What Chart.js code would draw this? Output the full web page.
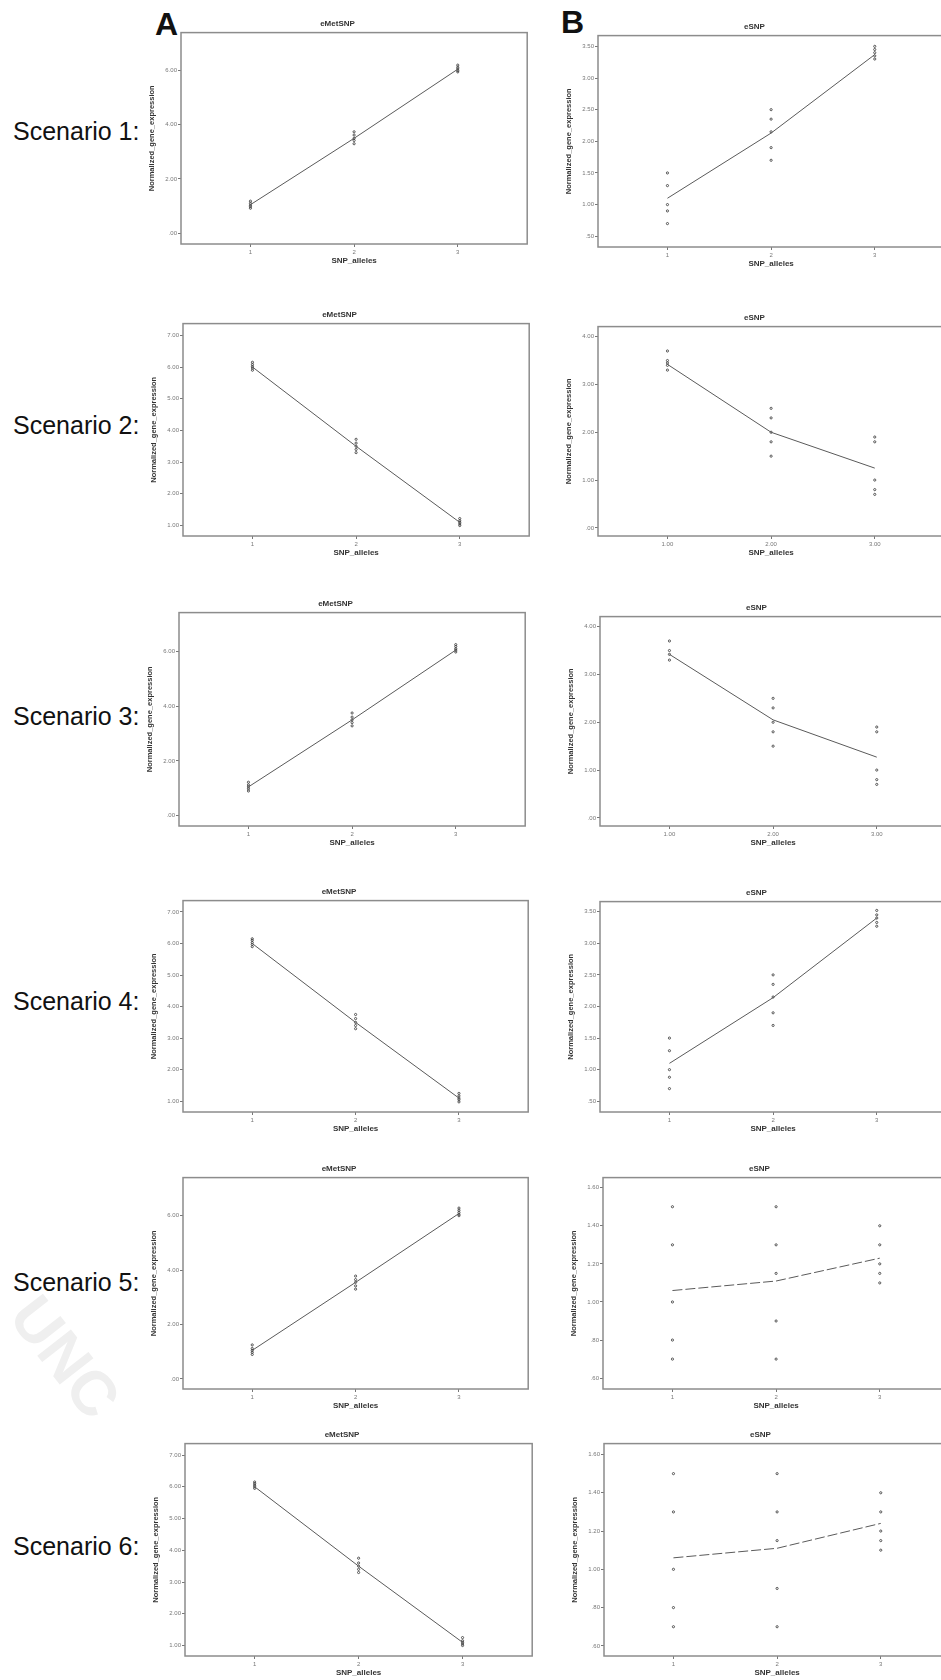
<!DOCTYPE html>
<html>
<head>
<meta charset="utf-8">
<script src="https://cdn.jsdelivr.net/npm/chart.js@4.4.0/dist/chart.umd.min.js"></script>
<style>
html, body { margin: 0; padding: 0; background: #fff; }
body { width: 941px; height: 1680px; position: relative; overflow: hidden; font-family: "Liberation Sans", Arial, sans-serif; }
canvas { position: absolute; }
.scen { position: absolute; left: 13px; font-size: 25px; color: #111; line-height: 1; transform: translateY(-50%); white-space: nowrap; }
.col { position: absolute; font-size: 32px; font-weight: bold; line-height: 1; color: #111;
       font-family: "Liberation Sans Narrow", "Liberation Sans", Arial, sans-serif; }
.wm { position: absolute; left: 52px; top: 1282px; font-size: 62px; font-weight: bold; color: #efefef;
      transform: rotate(52deg); transform-origin: left top; white-space: nowrap; }
</style>
</head>
<body>
<div class="wm">UNC</div>
<div class="col" style="left:155px; top:8px;">A</div>
<div class="col" style="left:561px; top:6px;">B</div>
<div class="scen" style="top:131px;">Scenario 1:</div>
<div class="scen" style="top:425px;">Scenario 2:</div>
<div class="scen" style="top:716px;">Scenario 3:</div>
<div class="scen" style="top:1001px;">Scenario 4:</div>
<div class="scen" style="top:1282px;">Scenario 5:</div>
<div class="scen" style="top:1546px;">Scenario 6:</div>

<script>
// x categories (SNP alleles)
var alleles = [1, 2, 3];

// tick label sets
var metTicksLow = [0, 2, 4, 6];
var metTicksHigh = [1, 2, 3, 4, 5, 6, 7];
var snpTicksHalf = [0.5, 1, 1.5, 2, 2.5, 3, 3.5];
var snpTicksWhole = [0, 1, 2, 3, 4];
var snpTicksFine = [0.6, 0.8, 1.0, 1.2, 1.4, 1.6];

// scenario 1
var s1MetPts = [[0.92, 0.98, 1.03, 1.1, 1.18], [3.3, 3.42, 3.5, 3.62, 3.74], [5.95, 6.0, 6.06, 6.12, 6.2]];
var s1MetLine = [1.05, 3.5, 6.05];
var s1SnpPts = [[1.5, 1.3, 1.0, 0.9, 0.7], [2.5, 2.35, 2.15, 1.9, 1.7], [3.5, 3.45, 3.4, 3.35, 3.3]];
var s1SnpLine = [1.1, 2.13, 3.37];

// scenario 2
var s2MetPts = [[5.9, 5.97, 6.02, 6.08, 6.15], [3.3, 3.4, 3.5, 3.6, 3.72], [1.0, 1.05, 1.1, 1.15, 1.22]];
var s2MetLine = [6.0, 3.5, 1.1];
var s2SnpPts = [[3.7, 3.5, 3.45, 3.4, 3.3], [2.5, 2.3, 2.0, 1.8, 1.5], [1.9, 1.8, 1.0, 0.8, 0.7]];
var s2SnpLine = [3.42, 2.0, 1.25];

// scenario 3
var s3MetPts = [[0.9, 0.98, 1.05, 1.12, 1.22], [3.28, 3.4, 3.5, 3.6, 3.75], [5.98, 6.05, 6.1, 6.18, 6.25]];
var s3MetLine = [1.05, 3.5, 6.05];
var s3SnpPts = [[3.7, 3.5, 3.42, 3.3], [2.5, 2.3, 2.0, 1.8, 1.5], [1.9, 1.8, 1.0, 0.8, 0.7]];
var s3SnpLine = [3.42, 2.05, 1.27];

// scenario 4
var s4MetPts = [[5.9, 5.97, 6.03, 6.1, 6.15], [3.3, 3.4, 3.5, 3.62, 3.75], [0.98, 1.05, 1.1, 1.17, 1.25]];
var s4MetLine = [6.0, 3.5, 1.1];
var s4SnpPts = [[1.5, 1.3, 1.0, 0.88, 0.7], [2.5, 2.35, 2.15, 1.9, 1.7], [3.52, 3.45, 3.4, 3.33, 3.27]];
var s4SnpLine = [1.1, 2.14, 3.4];

// scenario 5
var s5MetPts = [[0.9, 0.98, 1.05, 1.12, 1.25], [3.3, 3.42, 3.55, 3.65, 3.78], [6.0, 6.05, 6.12, 6.2, 6.28]];
var s5MetLine = [1.05, 3.55, 6.08];
var s5SnpPts = [[1.5, 1.3, 1.0, 0.8, 0.7], [1.5, 1.3, 1.15, 0.9, 0.7], [1.4, 1.3, 1.2, 1.15, 1.1]];
var s5SnpLine = [1.06, 1.11, 1.23];

// scenario 6
var s6MetPts = [[5.95, 6.0, 6.05, 6.1, 6.15], [3.3, 3.4, 3.5, 3.6, 3.75], [1.0, 1.05, 1.1, 1.15, 1.25]];
var s6MetLine = [6.0, 3.5, 1.1];
var s6SnpPts = [[1.5, 1.3, 1.0, 0.8, 0.7], [1.5, 1.3, 1.15, 0.9, 0.7], [1.4, 1.3, 1.2, 1.15, 1.1]];
var s6SnpLine = [1.06, 1.11, 1.24];

var YW = 36;     // room left of plot box for ticks + axis title
var TH = 13.6;   // title block height
var XH = 24;     // room under plot box for ticks + axis title

Chart.defaults.font.family = "'Liberation Sans', Arial, sans-serif";

var framePlugin = {
    id: 'frame',
    beforeDatasetsDraw: function(chart) {
        var a = chart.chartArea, c = chart.ctx;
        c.save();
        c.strokeStyle = '#8c8c8c';
        c.lineWidth = 1.5;
        c.strokeRect(a.left, a.top, a.right - a.left, a.bottom - a.top);
        c.restore();
    }
};

function fmtY(v)
{
    return v.toFixed(2).replace(/^0\./, '.');
}

var panels = [
    {box: [181, 33, 530, 244],   title: 'eMetSNP', pts: s1MetPts, line: s1MetLine, ymin: -0.4,  ymax: 7.4,   ticks: metTicksLow},
    {box: [598, 36, 947, 247],   title: 'eSNP',    pts: s1SnpPts, line: s1SnpLine, ymin: 0.33,  ymax: 3.67,  ticks: snpTicksHalf},
    {box: [183, 324, 532, 536],  title: 'eMetSNP', pts: s2MetPts, line: s2MetLine, ymin: 0.67,  ymax: 7.37,  ticks: metTicksHigh},
    {box: [598, 327, 947, 536],  title: 'eSNP',    pts: s2SnpPts, line: s2SnpLine, ymin: -0.17, ymax: 4.21,  ticks: snpTicksWhole, xdec: true},
    {box: [179, 613, 528, 826],  title: 'eMetSNP', pts: s3MetPts, line: s3MetLine, ymin: -0.38, ymax: 7.42,  ticks: metTicksLow},
    {box: [600, 617, 949, 826],  title: 'eSNP',    pts: s3SnpPts, line: s3SnpLine, ymin: -0.17, ymax: 4.21,  ticks: snpTicksWhole, xdec: true},
    {box: [183, 901, 531, 1112], title: 'eMetSNP', pts: s4MetPts, line: s4MetLine, ymin: 0.66,  ymax: 7.36,  ticks: metTicksHigh},
    {box: [600, 902, 949, 1112], title: 'eSNP',    pts: s4SnpPts, line: s4SnpLine, ymin: 0.33,  ymax: 3.66,  ticks: snpTicksHalf},
    {box: [183, 1178, 531, 1389], title: 'eMetSNP', pts: s5MetPts, line: s5MetLine, ymin: -0.37, ymax: 7.4,  ticks: metTicksLow},
    {box: [603, 1178, 952, 1389], title: 'eSNP',    pts: s5SnpPts, line: s5SnpLine, ymin: 0.543, ymax: 1.653, ticks: snpTicksFine, dash: true},
    {box: [185, 1444, 535, 1656], title: 'eMetSNP', pts: s6MetPts, line: s6MetLine, ymin: 0.67, ymax: 7.36,  ticks: metTicksHigh},
    {box: [604, 1444, 953, 1656], title: 'eSNP',    pts: s6SnpPts, line: s6SnpLine, ymin: 0.547, ymax: 1.657, ticks: snpTicksFine, dash: true}
];

function drawPanel(p)
{
    var cv = document.createElement('canvas');
    var w = p.box[2] - p.box[0] + YW + 2;
    var h = p.box[3] - p.box[1] + TH + XH;
    cv.width = w;
    cv.height = Math.round(h);
    cv.style.left = (p.box[0] - YW) + 'px';
    cv.style.top = (p.box[1] - TH) + 'px';
    document.body.appendChild(cv);

    var pts = [];
    for (var i = 0; i < alleles.length; i++)
    {
        for (var j = 0; j < p.pts[i].length; j++)
        {
            pts.push({x: alleles[i], y: p.pts[i][j]});
        }
    }
    var fit = [];
    for (var k = 0; k < alleles.length; k++)
    {
        fit.push({x: alleles[k], y: p.line[k]});
    }

    new Chart(cv, {
        type: 'scatter',
        data: {
            datasets: [{
                data: fit,
                showLine: true,
                borderColor: '#5a5a5a',
                borderWidth: 1,
                borderDash: p.dash ? [10, 3] : [],
                pointRadius: 0
            }, {
                data: pts,
                pointStyle: 'circle',
                pointRadius: 1.1,
                borderWidth: 0.8,
                borderColor: '#333',
                backgroundColor: 'rgba(0,0,0,0)'
            }]
        },
        options: {
            responsive: false,
            animation: false,
            events: [],
            layout: {padding: {top: 0, left: 0, right: 2, bottom: 0}},
            plugins: {
                legend: {display: false},
                tooltip: {enabled: false},
                title: {
                    display: true,
                    text: p.title,
                    color: '#333',
                    font: {size: 8, weight: 'bold'},
                    padding: {top: 0, bottom: 4}
                }
            },
            scales: {
                x: {
                    type: 'linear',
                    min: 0.33,
                    max: 3.67,
                    afterBuildTicks: function(s) { s.ticks = alleles.map(function(v) { return {value: v}; }); },
                    afterFit: function(s) { s.height = XH; },
                    ticks: {
                        autoSkip: false,
                        maxRotation: 0,
                        padding: 2,
                        color: '#777',
                        font: {size: 6},
                        callback: function(v) { return p.xdec ? v.toFixed(2) : String(v); }
                    },
                    grid: {drawOnChartArea: false, drawTicks: true, tickLength: 3, color: '#777'},
                    border: {display: false},
                    title: {
                        display: true,
                        text: 'SNP_alleles',
                        color: '#333',
                        font: {size: 8, weight: 'bold'},
                        padding: {top: 0, bottom: 2}
                    }
                },
                y: {
                    type: 'linear',
                    min: p.ymin,
                    max: p.ymax,
                    afterBuildTicks: function(s) { s.ticks = p.ticks.map(function(v) { return {value: v}; }); },
                    afterFit: function(s) { s.width = YW; },
                    ticks: {
                        autoSkip: false,
                        padding: 1,
                        color: '#777',
                        font: {size: 6},
                        callback: function(v) { return fmtY(v); }
                    },
                    grid: {drawOnChartArea: false, drawTicks: true, tickLength: 3, color: '#777'},
                    border: {display: false},
                    title: {
                        display: true,
                        text: 'Normalized_gene_expression',
                        color: '#333',
                        font: {size: 7.5, weight: 'bold'},
                        padding: {top: 2.5, bottom: 0}
                    }
                }
            }
        },
        plugins: [framePlugin]
    });
}

for (var n = 0; n < panels.length; n++)
{
    drawPanel(panels[n]);
}
</script>
</body>
</html>
